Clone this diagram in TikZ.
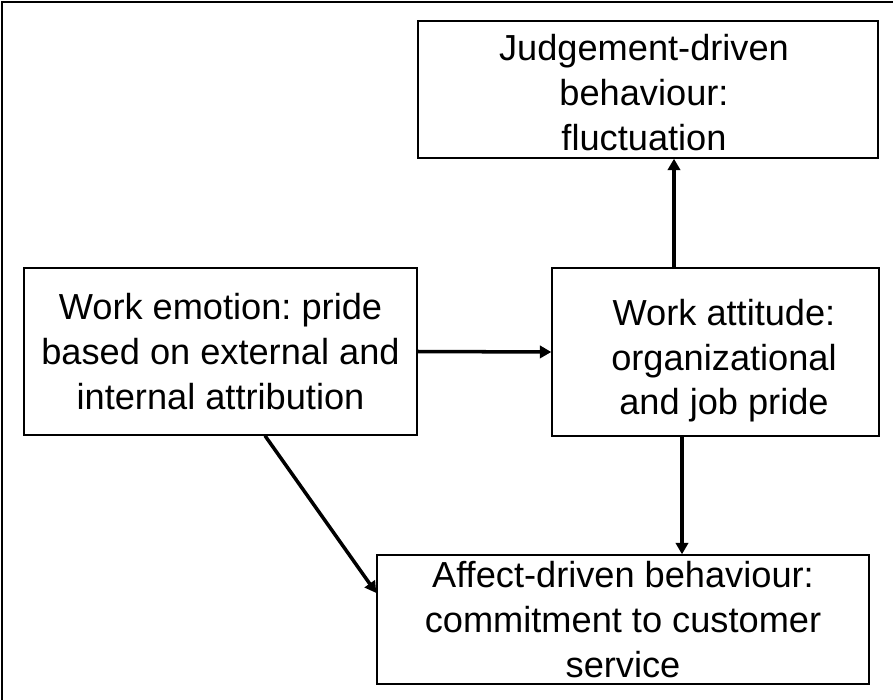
\documentclass[tikz,border=0pt]{standalone}
\usepackage{fontspec}
\setmainfont{Liberation Sans}
\usetikzlibrary{arrows.meta}
\frenchspacing
\begin{document}
\begin{tikzpicture}[
  box/.style={draw, line width=0.8pt, rectangle, inner sep=0pt, align=center,
    font=\fontsize{20.6}{25.4}\selectfont},
  arr/.style={line width=2pt, -{Triangle[length=6.5pt,width=7pt]}},
  frame/.style={line width=0.9pt}
]
\useasboundingbox (0,0) rectangle (17.86,-14);
% outer frame (top and left edges)
\draw[frame] (0.04,-14) -- (0.04,-0.04) -- (17.86,-0.04);

% boxes
\node[box, minimum width=9.2cm, minimum height=2.74cm] (judge) at (12.96,-1.79) {};
\node[box, draw=none] (judgetxt) at ([xshift=-0.08cm,yshift=-0.06cm]judge.center)
  {Judgement-driven\\behaviour:\\fluctuation};
\node[box, minimum width=7.86cm, minimum height=3.34cm] (emo) at (4.41,-7.03)
  {Work emotion: pride\\based on external and\\internal attribution};
\node[box, minimum width=6.54cm, minimum height=3.36cm] (att) at (14.31,-7.04) {};
\node[box, draw=none] (atttxt) at ([xshift=0.17cm,yshift=-0.18cm]att.center)
  {Work attitude:\\organizational\\and job pride};
\node[box, minimum width=9.84cm, minimum height=2.58cm] (aff) at (12.46,-12.39)
  {Affect-driven behaviour:\\commitment to customer\\service};

% connectors
\draw[arr] ([xshift=-0.83cm]att.north) -- ([xshift=-0.83cm]att.north |- judge.south);
\draw[arr] (emo.east) -- (att.west);
\draw[arr] ([xshift=-0.67cm]att.south) -- ([xshift=-0.67cm]att.south |- aff.north);
\draw[arr] ([xshift=0.89cm]emo.south) -- ([yshift=0.53cm]aff.west);
\end{tikzpicture}
\end{document}
